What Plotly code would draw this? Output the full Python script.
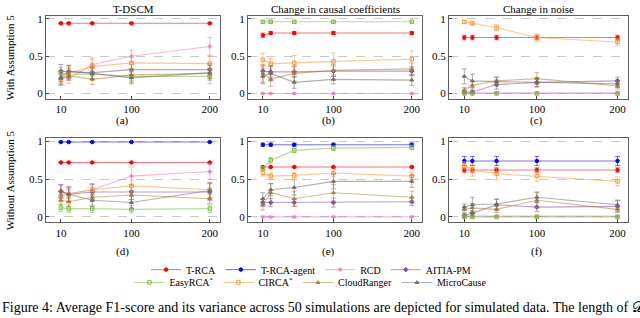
import plotly.graph_objects as go
from plotly.subplots import make_subplots

# sample sizes (x axis)
sizes = [10, 20, 50, 100, 200]

methods = ['T-RCA', 'T-RCA-agent', 'RCD', 'AITIA-PM', 'EasyRCA', 'CIRCA', 'CloudRanger', 'MicroCause']
legend_labels = ['T-RCA', 'T-RCA-agent', 'RCD', 'AITIA-PM',
                 'EasyRCA<sup>*</sup>', 'CIRCA<sup>*</sup>', 'CloudRanger', 'MicroCause']

col_titles = ['T-DSCM', 'Change in causal coefficients', 'Change in noise']
row_titles = ['With Assumption 5', 'Without Assumption 5']
panel_tags = ['(a)', '(b)', '(c)', '(d)', '(e)', '(f)']

# (a) T-DSCM, with assumption 5
a_mean = {
    'T-RCA': [0.94, 0.94, 0.94, 0.94, 0.94],
    'RCD': [0.22, 0.20, 0.39, 0.50, 0.63],
    'AITIA-PM': [0.30, 0.29, 0.28, 0.32, 0.32],
    'EasyRCA': [0.27, 0.26, 0.26, 0.23, 0.23],
    'CIRCA': [0.18, 0.28, 0.36, 0.41, 0.40],
    'CloudRanger': [0.20, 0.24, 0.19, 0.25, 0.27],
    'MicroCause': [0.21, 0.30, 0.27, 0.21, 0.28],
}
a_err = {
    'T-RCA': [0.01, 0.01, 0.01, 0.01, 0.01],
    'RCD': [0.06, 0.06, 0.09, 0.08, 0.12],
    'AITIA-PM': [0.09, 0.08, 0.08, 0.07, 0.08],
    'EasyRCA': [0.08, 0.08, 0.07, 0.08, 0.10],
    'CIRCA': [0.06, 0.06, 0.10, 0.08, 0.10],
    'CloudRanger': [0.07, 0.06, 0.07, 0.08, 0.07],
    'MicroCause': [0.10, 0.08, 0.08, 0.08, 0.10],
}

# (b) change in causal coefficients, with assumption 5
b_mean = {
    'T-RCA': [0.78, 0.81, 0.81, 0.81, 0.81],
    'RCD': [0.0, 0.0, 0.0, 0.0, 0.0],
    'AITIA-PM': [0.30, 0.29, 0.29, 0.30, 0.30],
    'EasyRCA': [0.96, 0.96, 0.96, 0.96, 0.96],
    'CIRCA': [0.45, 0.40, 0.41, 0.43, 0.46],
    'CloudRanger': [0.27, 0.19, 0.27, 0.31, 0.33],
    'MicroCause': [0.23, 0.27, 0.15, 0.19, 0.18],
}
b_err = {
    'T-RCA': [0.03, 0.02, 0.02, 0.02, 0.02],
    'RCD': [0.005, 0.005, 0.005, 0.005, 0.005],
    'AITIA-PM': [0.07, 0.07, 0.07, 0.07, 0.06],
    'EasyRCA': [0.015, 0.015, 0.015, 0.015, 0.015],
    'CIRCA': [0.09, 0.07, 0.10, 0.11, 0.11],
    'CloudRanger': [0.12, 0.09, 0.10, 0.08, 0.08],
    'MicroCause': [0.10, 0.10, 0.08, 0.06, 0.07],
}

# (c) change in noise, with assumption 5
c_mean = {
    'T-RCA': [0.75, 0.75, 0.75, 0.75, 0.75],
    'RCD': [0.01, 0.01, 0.01, 0.01, 0.01],
    'AITIA-PM': [0.02, 0.02, 0.12, 0.15, 0.17],
    'EasyRCA': [0.0, 0.0, 0.0, 0.0, 0.0],
    'CIRCA': [0.96, 0.94, 0.88, 0.75, 0.69],
    'CloudRanger': [0.05, 0.11, 0.17, 0.20, 0.10],
    'MicroCause': [0.23, 0.17, 0.16, 0.15, 0.13],
}
c_err = {
    'T-RCA': [0.03, 0.03, 0.03, 0.03, 0.03],
    'RCD': [0.01, 0.01, 0.01, 0.01, 0.01],
    'AITIA-PM': [0.02, 0.02, 0.06, 0.06, 0.05],
    'EasyRCA': [0.005, 0.005, 0.005, 0.005, 0.005],
    'CIRCA': [0.02, 0.02, 0.04, 0.05, 0.05],
    'CloudRanger': [0.03, 0.05, 0.05, 0.08, 0.04],
    'MicroCause': [0.10, 0.09, 0.06, 0.06, 0.05],
}

# (d) T-DSCM, without assumption 5
d_mean = {
    'T-RCA': [0.72, 0.72, 0.72, 0.72, 0.72],
    'T-RCA-agent': [0.99, 0.99, 0.99, 0.99, 0.99],
    'RCD': [0.30, 0.31, 0.36, 0.54, 0.60],
    'AITIA-PM': [0.34, 0.30, 0.33, 0.33, 0.33],
    'EasyRCA': [0.12, 0.11, 0.11, 0.10, 0.11],
    'CIRCA': [0.28, 0.30, 0.36, 0.41, 0.36],
    'CloudRanger': [0.22, 0.20, 0.26, 0.29, 0.24],
    'MicroCause': [0.34, 0.30, 0.22, 0.19, 0.35],
}
d_err = {
    'T-RCA': [0.005, 0.005, 0.005, 0.005, 0.005],
    'T-RCA-agent': [0.005, 0.005, 0.005, 0.005, 0.005],
    'RCD': [0.05, 0.06, 0.08, 0.12, 0.10],
    'AITIA-PM': [0.09, 0.10, 0.10, 0.10, 0.11],
    'EasyRCA': [0.05, 0.05, 0.05, 0.05, 0.05],
    'CIRCA': [0.07, 0.06, 0.08, 0.08, 0.10],
    'CloudRanger': [0.06, 0.06, 0.06, 0.06, 0.06],
    'MicroCause': [0.08, 0.09, 0.08, 0.08, 0.10],
}

# (e) change in causal coefficients, without assumption 5
e_mean = {
    'T-RCA': [0.66, 0.66, 0.66, 0.66, 0.66],
    'T-RCA-agent': [0.955, 0.955, 0.955, 0.955, 0.955],
    'RCD': [0.0, 0.0, 0.0, 0.0, 0.0],
    'AITIA-PM': [0.19, 0.19, 0.19, 0.19, 0.20],
    'EasyRCA': [0.64, 0.75, 0.88, 0.91, 0.92],
    'CIRCA': [0.58, 0.54, 0.55, 0.58, 0.54],
    'CloudRanger': [0.16, 0.32, 0.24, 0.32, 0.26],
    'MicroCause': [0.24, 0.36, 0.39, 0.47, 0.47],
}
e_err = {
    'T-RCA': [0.01, 0.01, 0.01, 0.01, 0.01],
    'T-RCA-agent': [0.02, 0.02, 0.02, 0.02, 0.02],
    'RCD': [0.005, 0.005, 0.005, 0.005, 0.005],
    'AITIA-PM': [0.05, 0.05, 0.05, 0.06, 0.05],
    'EasyRCA': [0.02, 0.04, 0.03, 0.03, 0.03],
    'CIRCA': [0.04, 0.04, 0.04, 0.05, 0.05],
    'CloudRanger': [0.07, 0.12, 0.10, 0.11, 0.08],
    'MicroCause': [0.08, 0.08, 0.10, 0.10, 0.08],
}

# (f) change in noise, without assumption 5
f_mean = {
    'T-RCA': [0.62, 0.62, 0.62, 0.62, 0.62],
    'T-RCA-agent': [0.74, 0.74, 0.74, 0.74, 0.74],
    'RCD': [0.01, 0.01, 0.01, 0.01, 0.01],
    'AITIA-PM': [0.02, 0.05, 0.16, 0.13, 0.14],
    'EasyRCA': [0.0, 0.0, 0.0, 0.0, 0.0],
    'CIRCA': [0.68, 0.62, 0.57, 0.54, 0.47],
    'CloudRanger': [0.10, 0.12, 0.10, 0.22, 0.10],
    'MicroCause': [0.13, 0.16, 0.17, 0.26, 0.16],
}
f_err = {
    'T-RCA': [0.03, 0.03, 0.03, 0.03, 0.03],
    'T-RCA-agent': [0.06, 0.06, 0.06, 0.06, 0.06],
    'RCD': [0.01, 0.01, 0.01, 0.01, 0.01],
    'AITIA-PM': [0.02, 0.03, 0.07, 0.06, 0.08],
    'EasyRCA': [0.005, 0.005, 0.005, 0.005, 0.005],
    'CIRCA': [0.05, 0.08, 0.08, 0.07, 0.06],
    'CloudRanger': [0.04, 0.06, 0.04, 0.10, 0.03],
    'MicroCause': [0.04, 0.10, 0.07, 0.07, 0.06],
}

panels = [(a_mean, a_err), (b_mean, b_err), (c_mean, c_err),
          (d_mean, d_err), (e_mean, e_err), (f_mean, f_err)]

colors = {
    'T-RCA': (255, 0, 0),
    'T-RCA-agent': (0, 0, 255),
    'RCD': (240, 120, 190),
    'AITIA-PM': (128, 80, 160),
    'EasyRCA': (120, 190, 60),
    'CIRCA': (255, 150, 50),
    'CloudRanger': (176, 128, 48),
    'MicroCause': (110, 110, 110),
}
symbols = {
    'T-RCA': 'circle',
    'T-RCA-agent': 'circle',
    'RCD': 'asterisk-open',
    'AITIA-PM': 'diamond',
    'EasyRCA': 'square-open',
    'CIRCA': 'square-open',
    'CloudRanger': 'triangle-up',
    'MicroCause': 'triangle-up',
}

serif = 'Liberation Serif'

fig = make_subplots(rows=2, cols=3)

shown = set()
for p, (means, errs) in enumerate(panels):
    row, col = p // 3 + 1, p % 3 + 1
    for i, m in enumerate(methods):
        if m not in means:
            continue
        r, g, b = colors[m]
        solid = f'rgb({r},{g},{b})'
        soft = f'rgba({r},{g},{b},0.55)'
        fig.add_trace(go.Scatter(
            x=sizes, y=means[m], mode='lines+markers',
            name=legend_labels[i],
            legend='legend' if i < 4 else 'legend2',
            legendrank=i,
            showlegend=m not in shown,
            line=dict(color=soft, width=1.1),
            marker=dict(symbol=symbols[m], size=3.5, color=solid,
                        line=dict(color=solid, width=1)),
            error_y=dict(type='data', array=errs[m], color=soft,
                         thickness=1, width=2.5),
        ), row=row, col=col)
        shown.add(m)

# panel frames in pixels of the 640x318 canvas
W, H = 640, 318
x_dom = [(46, 220), (248, 422), (449, 628)]
y_dom = [(13, 97), (137, 222)]

for p in range(6):
    row, col = p // 3 + 1, p % 3 + 1
    x0, x1 = x_dom[col - 1]
    y0, y1 = y_dom[row - 1]
    fig.update_xaxes(domain=[x0 / W, x1 / W], range=[-9, 213],
                     tickvals=[10, 100, 200], ticks='inside', ticklen=3,
                     showgrid=False, zeroline=False,
                     showline=True, mirror=True, linecolor='#606060', linewidth=1.2,
                     tickfont=dict(family=serif, size=11, color='black'),
                     row=row, col=col)
    fig.update_yaxes(domain=[1 - y1 / H, 1 - y0 / H], range=[-0.07, 1.04],
                     tickvals=[0, 0.5, 1], ticktext=['0', '0.5', '1'],
                     ticks='inside', ticklen=3,
                     showgrid=True, gridcolor='#c8c8c8', griddash='dash', gridwidth=0.8,
                     zeroline=False,
                     showline=True, mirror=True, linecolor='#606060', linewidth=1.2,
                     tickfont=dict(family=serif, size=11, color='black'),
                     row=row, col=col)

txt = dict(family=serif, size=11, color='black')
annotations = []
for c, t in enumerate(col_titles):
    x0, x1 = x_dom[c]
    annotations.append(dict(text=t, x=(x0 + x1) / 2 / W, y=1 - 6 / H, xref='paper', yref='paper',
                            xanchor='center', yanchor='middle', showarrow=False, font=txt))
for r, t in enumerate(row_titles):
    y0, y1 = y_dom[r]
    annotations.append(dict(text=t, x=10 / W, y=1 - (y0 + y1) / 2 / H, xref='paper', yref='paper',
                            xanchor='center', yanchor='middle', textangle=-90,
                            showarrow=False, font=txt))
tag_x = [122, 328, 536]
tag_y = [119, 252]
for p, t in enumerate(panel_tags):
    annotations.append(dict(text=t, x=tag_x[p % 3] / W, y=1 - tag_y[p // 3] / H,
                            xref='paper', yref='paper', xanchor='center', yanchor='middle',
                            showarrow=False, font=txt))
annotations.append(dict(
    text='Figure 4: Average F1-score and its variance across 50 simulations are depicted for simulated data. The length of 𝒟',
    x=0, y=1 - 308 / H, xref='paper', yref='paper', xanchor='left', yanchor='middle',
    showarrow=False, font=dict(family=serif, size=14, color='black')))

fig.update_layout(
    width=W, height=H,
    margin=dict(l=0, r=0, t=0, b=0),
    plot_bgcolor='white', paper_bgcolor='white',
    annotations=annotations,
    legend=dict(orientation='h', x=0.486, y=1 - 270 / H, xanchor='center', yanchor='middle',
                font=dict(family=serif, size=10, color='black'), bgcolor='rgba(0,0,0,0)',
                itemwidth=30, tracegroupgap=0),
    legend2=dict(orientation='h', x=0.485, y=1 - 283 / H, xanchor='center', yanchor='middle',
                 font=dict(family=serif, size=10, color='black'), bgcolor='rgba(0,0,0,0)',
                 itemwidth=30, tracegroupgap=0),
)

# page body margin would push the figure 8px down/right
fig.write_html('out.html', config={'displayModeBar': False},
               post_script="document.body.style.margin='0';")
